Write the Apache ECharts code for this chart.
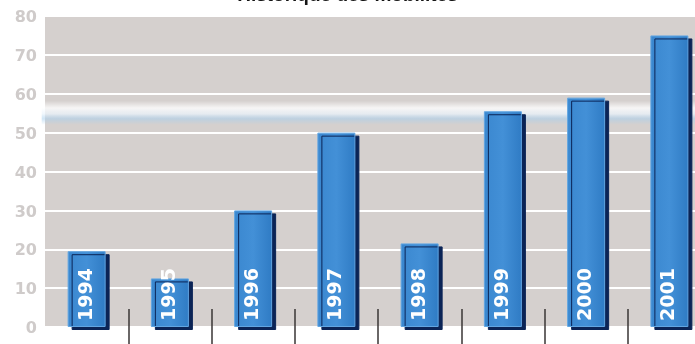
<!DOCTYPE html>
<html>
<head>
<meta charset="utf-8">
<script src="https://cdn.jsdelivr.net/npm/echarts@6/dist/echarts.min.js"></script>
<style>
  html, body { margin: 0; padding: 0; background: #ffffff; }
  #chart { width: 695px; height: 344px; }
</style>
</head>
<body>
<div id="chart"></div>
<script>
// Mobilités par année
const years = ['1994', '1995', '1996', '1997', '1998', '1999', '2000', '2001'];
const mobilites = [19.5, 12.5, 30, 50, 21.5, 55.5, 59, 75];
const yTicks = [0, 10, 20, 30, 40, 50, 60, 70, 80];
// separators between the year columns (value-axis positions)
const separators = [1, 2, 3, 4, 5, 6, 7];
// light band across the plot
const glowBand = [52, 58.2];

const chart = echarts.init(document.getElementById('chart'), null, { renderer: 'canvas' });

chart.setOption({
  animation: false,
  backgroundColor: '#ffffff',
  title: {
    text: 'Historique des mobilités',
    left: 'center',
    top: -19,
    textStyle: { fontFamily: 'Liberation Sans', fontWeight: 'bold', fontSize: 19, color: '#151515' }
  },
  grid: {
    left: 45, top: 16, right: -16, bottom: 17,
    outerBoundsMode: 'none',
    containLabel: false,
    show: true, backgroundColor: '#d5d0ce', borderWidth: 0
  },
  xAxis: [
    {
      type: 'category',
      data: years,
      axisLine: { show: false },
      axisTick: { show: false },
      axisLabel: { show: false }
    },
    {
      type: 'value',
      min: 0, max: years.length,
      position: 'bottom',
      offset: -18,
      axisLine: { show: false },
      axisLabel: { show: false },
      splitLine: { show: false },
      axisTick: {
        show: true, length: 36, inside: false,
        customValues: separators,
        lineStyle: { color: '#3a3636', width: 1.5 }
      }
    }
  ],
  yAxis: {
    type: 'value',
    min: yTicks[0], max: yTicks[yTicks.length - 1], interval: 10,
    axisLine: { show: false },
    axisTick: { show: false },
    axisLabel: {
      margin: 8,
      color: '#cfcbca',
      fontFamily: 'DejaVu Sans', fontWeight: 'bold', fontSize: 16,
      verticalAlign: 'top',
      padding: [-6, 0, 0, 0]
    },
    splitLine: { lineStyle: { color: '#ffffff', width: 2 } }
  },
  series: [
    {
      type: 'bar',
      data: mobilites,
      barWidth: 38,
      z: 2,
      itemStyle: {
        color: {
          type: 'linear', x: 0, y: 0, x2: 1, y2: 0,
          colorStops: [
            { offset: 0, color: '#3a87cf' },
            { offset: 0.5, color: '#4390d7' },
            { offset: 1, color: '#2f7bc4' }
          ]
        },
        borderColor: '#62a6e2',
        borderWidth: 1,
        shadowColor: '#0b2456',
        shadowBlur: 0,
        shadowOffsetX: 4,
        shadowOffsetY: 3
      },
      label: {
        show: true,
        formatter: (p) => p.name,
        position: 'insideBottom',
        rotate: 90,
        align: 'left',
        verticalAlign: 'middle',
        distance: 6,
        color: '#ffffff',
        fontFamily: 'DejaVu Sans',
        fontWeight: 'bold',
        fontSize: 19,
        textShadowColor: '#0d2a5c',
        textShadowBlur: 0,
        textShadowOffsetX: 1.5,
        textShadowOffsetY: 1.5
      }
    },
    {
      type: 'line',
      data: [],
      z: 4,
      silent: true,
      markArea: {
        silent: true,
        itemStyle: {
          color: {
            type: 'linear', x: 0, y: 0, x2: 0, y2: 1,
            colorStops: [
              { offset: 0, color: 'rgba(255,255,255,0)' },
              { offset: 0.3, color: 'rgba(255,255,255,0.8)' },
              { offset: 0.55, color: 'rgba(235,244,252,0.75)' },
              { offset: 0.75, color: 'rgba(170,208,238,0.55)' },
              { offset: 1, color: 'rgba(170,208,238,0)' }
            ]
          }
        },
        data: [[{ yAxis: glowBand[0], x: '6%' }, { yAxis: glowBand[1], x: '100%' }]]
      }
    }
  ]
});
</script>
</body>
</html>
